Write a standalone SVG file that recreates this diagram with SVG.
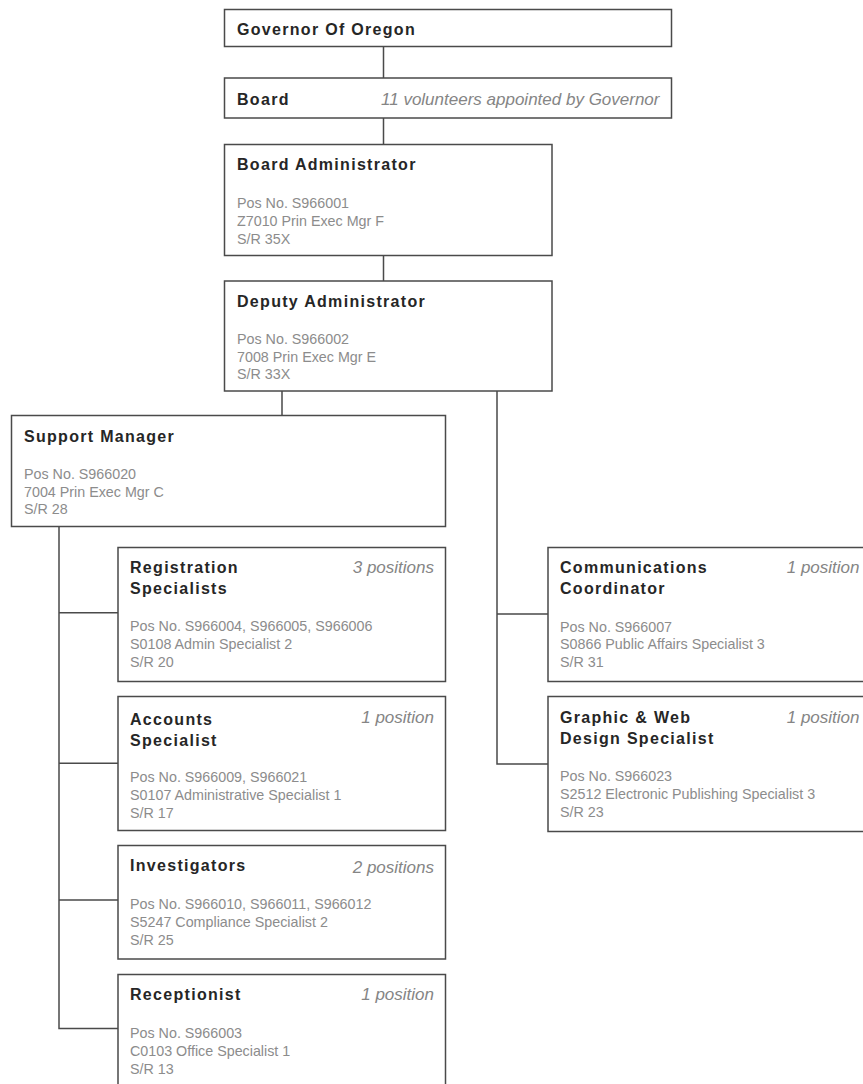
<svg xmlns="http://www.w3.org/2000/svg" width="863" height="1084" viewBox="0 0 863 1084">
<style>
.box{fill:#fff;stroke:#4a4a4a;stroke-width:1.5}
.ln{fill:none;stroke:#4a4a4a;stroke-width:1.5}
.t{font-family:"Liberation Sans",Arial,sans-serif;font-weight:bold;font-size:16px;letter-spacing:1.3px;fill:#262626}
.b{font-family:"Liberation Sans",Arial,sans-serif;font-size:14.3px;fill:#8c8c8c}
.i{font-family:"Liberation Sans",Arial,sans-serif;font-style:italic;font-size:17px;fill:#858585;text-anchor:end}
</style>
<rect width="863" height="1084" fill="#fff"/>
<g id="connectors">
<path class="ln" d="M383.5 46.5V78M383.5 118V144.5M383.5 255.5V281M282 391V415.5"/>
<path class="ln" d="M497 391V764H548M497 614H548"/>
<path class="ln" d="M59 526.5V1028.5H118M59 612.7H118M59 763.3H118M59 900H118"/>
</g>
<g id="governor">
<rect class="box" x="224.5" y="9.5" width="447" height="37"/>
<text class="t" x="237" y="34.5">Governor Of Oregon</text>
</g>
<g id="board">
<rect class="box" x="224.5" y="78" width="447" height="40"/>
<text class="t" x="237" y="105">Board</text>
<text class="i" x="659.5" y="105">11 volunteers appointed by Governor</text>
</g>
<g id="board-administrator">
<rect class="box" x="224.5" y="144.5" width="327.5" height="111"/>
<text class="t" x="237" y="170">Board Administrator</text>
<text class="b" x="237" y="208.3">Pos No. S966001</text>
<text class="b" x="237" y="226">Z7010 Prin Exec Mgr F</text>
<text class="b" x="237" y="243.5">S/R 35X</text>
</g>
<g id="deputy-administrator">
<rect class="box" x="224.5" y="281" width="327.5" height="110"/>
<text class="t" x="237" y="307.3">Deputy Administrator</text>
<text class="b" x="237" y="344">Pos No. S966002</text>
<text class="b" x="237" y="361.7">7008 Prin Exec Mgr E</text>
<text class="b" x="237" y="379.3">S/R 33X</text>
</g>
<g id="support-manager">
<rect class="box" x="11.5" y="415.5" width="434" height="111"/>
<text class="t" x="24" y="442.3">Support Manager</text>
<text class="b" x="24" y="479">Pos No. S966020</text>
<text class="b" x="24" y="496.7">7004 Prin Exec Mgr C</text>
<text class="b" x="24" y="514.3">S/R 28</text>
</g>
<g id="registration-specialists">
<rect class="box" x="118" y="547.5" width="327.5" height="134"/>
<text class="t" x="130" y="572.7">Registration</text>
<text class="t" x="130" y="594">Specialists</text>
<text class="i" x="434" y="572.7">3 positions</text>
<text class="b" x="130" y="630.7">Pos No. S966004, S966005, S966006</text>
<text class="b" x="130" y="649">S0108 Admin Specialist 2</text>
<text class="b" x="130" y="666.7">S/R 20</text>
</g>
<g id="accounts-specialist">
<rect class="box" x="118" y="696.5" width="327.5" height="134"/>
<text class="t" x="130" y="724.5">Accounts</text>
<text class="t" x="130" y="745.5">Specialist</text>
<text class="i" x="434" y="723.3">1 position</text>
<text class="b" x="130" y="782.3">Pos No. S966009, S966021</text>
<text class="b" x="130" y="800.3">S0107 Administrative Specialist 1</text>
<text class="b" x="130" y="818.3">S/R 17</text>
</g>
<g id="investigators">
<rect class="box" x="118" y="845.5" width="327.5" height="113.5"/>
<text class="t" x="130" y="870.7">Investigators</text>
<text class="i" x="434" y="872.5">2 positions</text>
<text class="b" x="130" y="909.3">Pos No. S966010, S966011, S966012</text>
<text class="b" x="130" y="927.3">S5247 Compliance Specialist 2</text>
<text class="b" x="130" y="945">S/R 25</text>
</g>
<g id="receptionist">
<rect class="box" x="118" y="974.5" width="327.5" height="120"/>
<text class="t" x="130" y="1000">Receptionist</text>
<text class="i" x="434" y="1000">1 position</text>
<text class="b" x="130" y="1038.3">Pos No. S966003</text>
<text class="b" x="130" y="1056.3">C0103 Office Specialist 1</text>
<text class="b" x="130" y="1074">S/R 13</text>
</g>
<g id="communications-coordinator">
<rect class="box" x="548" y="547.5" width="323" height="134"/>
<text class="t" x="560" y="573.3">Communications</text>
<text class="t" x="560" y="594.3">Coordinator</text>
<text class="i" x="859.5" y="573.3">1 position</text>
<text class="b" x="560" y="631.7">Pos No. S966007</text>
<text class="b" x="560" y="649.3">S0866 Public Affairs Specialist 3</text>
<text class="b" x="560" y="667.3">S/R 31</text>
</g>
<g id="graphic-web-design-specialist">
<rect class="box" x="548" y="696.5" width="323" height="135"/>
<text class="t" x="560" y="723.3">Graphic &amp; Web</text>
<text class="t" x="560" y="744.3">Design Specialist</text>
<text class="i" x="859.5" y="723.3">1 position</text>
<text class="b" x="560" y="780.7">Pos No. S966023</text>
<text class="b" x="560" y="799.3">S2512 Electronic Publishing Specialist 3</text>
<text class="b" x="560" y="816.7">S/R 23</text>
</g>
</svg>
